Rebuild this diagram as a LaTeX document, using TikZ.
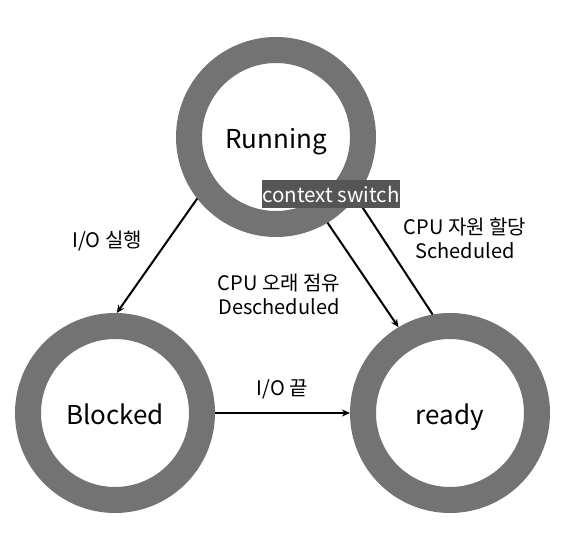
\documentclass[tikz,border=0pt]{standalone}
\usepackage{fontspec}
\setmainfont{Noto Sans CJK KR}
\usetikzlibrary{arrows.meta,positioning}
\definecolor{ringGray}{HTML}{737373}
\definecolor{tagGray}{HTML}{555555}

\begin{document}
\begin{tikzpicture}[
    x=1pt, y=-1pt,
    state/.style={circle, draw=ringGray, line width=26pt, minimum size=174pt,
                  inner sep=0pt, text height=23pt, text depth=0pt,
                  font=\fontsize{26}{30}\selectfont},
    lbl/.style={font=\fontsize{20}{24}\selectfont, align=center},
    arr/.style={-{Stealth[length=8pt, width=7pt]}, line width=2pt}
  ]
    \useasboundingbox (0,0) rectangle (586,534);

    % States
    \node[state] (running) at (276,137) {Running};
    \node[state] (blocked) at (115,413) {Blocked};
    \node[state] (ready) at (450,413) {ready};

    % Transitions
    \draw[arr] (running.218) -- (blocked.89);
    \draw[arr] (running.-59) -- (ready.121);
    \draw[arr] (ready.100) -- (running.-37);
    \draw[arr] (blocked.east) -- node[lbl, above=10pt] {I/O 끝} (ready.west);

    % Labels
    \node[lbl] (iorun) at (107,241) {I/O 실행};
    \node[lbl] (desched) at (279,294) {CPU 오래 점유\\Descheduled};
    \node[lbl] (sched) at (465,238) {CPU 자원 할당\\Scheduled};

    % Context switch tag
    \node[fill=tagGray, text=white, font=\fontsize{20.5}{24}\selectfont,
          minimum width=134pt, minimum height=28pt, inner sep=0pt] (ctx)
      at (331,194) {context switch};
  \end{tikzpicture}
\end{document}
